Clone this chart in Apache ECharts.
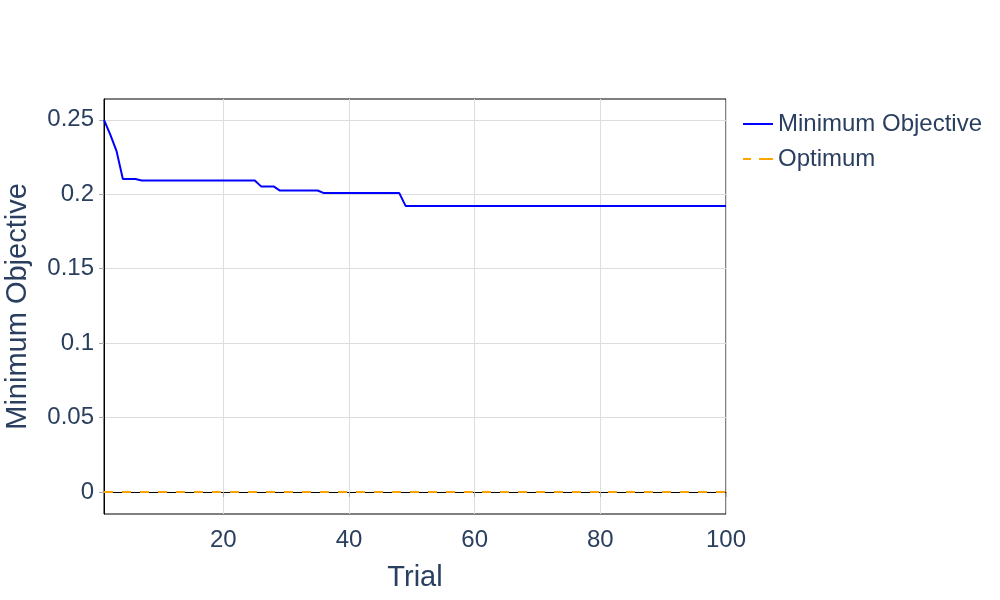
<!DOCTYPE html>
<html>
<head>
<meta charset="utf-8">
<script src="https://cdn.jsdelivr.net/npm/echarts@6/dist/echarts.min.js"></script>
<style>html,body{margin:0;padding:0;background:#fff}#c{width:1000px;height:600px}</style>
</head>
<body>
<div id="c"></div>
<script>
const trials = [1, 2, 3, 4, 6, 7, 25, 26, 28, 29, 35, 36, 48, 49, 100];
const minObjective = [0.25, 0.240, 0.229, 0.2103, 0.2103, 0.2093, 0.2093, 0.2053, 0.2053, 0.2025, 0.2025, 0.2008, 0.2008, 0.1922, 0.1922];
const optimumTrials = [1, 100];
const optimumValues = [0, 0];
const xTicks = [20, 40, 60, 80, 100];
const yTicks = [0, 0.05, 0.1, 0.15, 0.2, 0.25];

const font = 'Liberation Sans, Arial, sans-serif';
const txt = '#2a3f5f';
const chart = echarts.init(document.getElementById('c'), null, {renderer: 'canvas'});
chart.setOption({
  animation: false,
  backgroundColor: '#fff',
  grid: {left: 104, right: 274, top: 99, bottom: 86, containLabel: false, outerBoundsMode: 'none',
    show: true, borderColor: '#000', borderWidth: 1, backgroundColor: 'transparent'},
  legend: {
    orient: 'vertical', left: 738, top: 107, itemGap: 11, itemWidth: 30, itemHeight: 2,
    textStyle: {fontFamily: font, fontSize: 24, color: txt},
    data: [
      {name: 'Minimum Objective', icon: 'rect'},
      {name: 'Optimum', icon: 'path://M0,0h8v2h-8zM16,0h14v2h-14z'}
    ]
  },
  xAxis: {
    type: 'value', min: 1, max: 100,
    name: 'Trial', nameLocation: 'middle', nameGap: 49,
    nameTextStyle: {fontFamily: font, fontSize: 29, color: txt},
    axisLine: {show: true, lineStyle: {color: '#000', width: 1}},
    axisTick: {show: true, length: 5, lineStyle: {color: '#aaa'}, customValues: xTicks},
    axisLabel: {customValues: xTicks, fontFamily: font, fontSize: 24, color: txt, margin: 14},
    splitLine: {show: true, lineStyle: {color: '#dddddd', width: 1}}
  },
  yAxis: {
    type: 'value', min: -0.0148, max: 0.264,
    name: 'Minimum Objective', nameLocation: 'middle', nameGap: 72,
    nameTextStyle: {fontFamily: font, fontSize: 29, color: txt},
    axisLine: {show: true, lineStyle: {color: '#000', width: 1}},
    axisTick: {show: true, length: 5, lineStyle: {color: '#aaa'}, customValues: yTicks},
    axisLabel: {customValues: yTicks, fontFamily: font, fontSize: 24, color: txt, margin: 10,
      padding: [3, 0, 0, 0],
      formatter: v => String(parseFloat(v.toFixed(2)))},
    splitLine: {show: true, lineStyle: {color: '#dddddd', width: 1}}
  },
  series: [
    {
      name: 'Minimum Objective', type: 'line', symbol: 'none',
      data: trials.map((t, i) => [t, minObjective[i]]),
      lineStyle: {color: '#0000ff', width: 2}, itemStyle: {color: '#0000ff'}
    },
    {
      name: 'Optimum', type: 'line', symbol: 'none',
      data: optimumTrials.map((t, i) => [t, optimumValues[i]]),
      lineStyle: {color: '#ffa500', width: 2, type: [9, 9]}, itemStyle: {color: '#ffa500'}
    }
  ]
});
</script>
</body>
</html>
